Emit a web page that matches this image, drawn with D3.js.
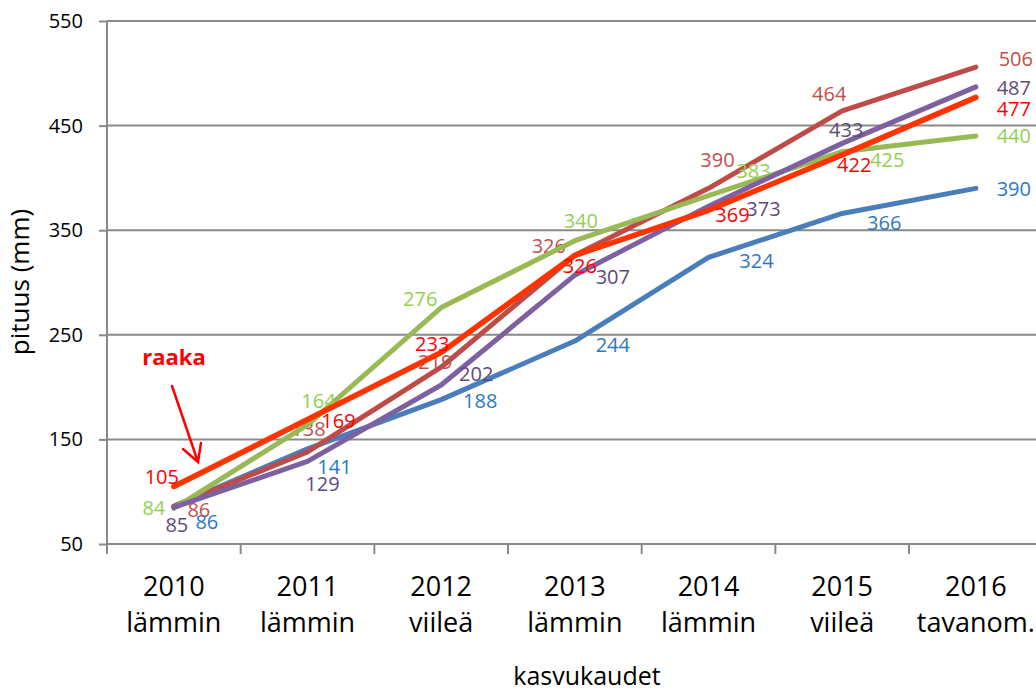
<!DOCTYPE html>
<html>
<head>
<meta charset="utf-8">
<script src="https://cdn.jsdelivr.net/npm/d3@7"></script>
<style>
  html, body { margin: 0; padding: 0; background: #ffffff; }
  svg { display: block; font-family: "Open Sans", "Noto Sans", sans-serif; }
</style>
</head>
<body>
<svg id="chart" width="1036" height="693"></svg>
<script>
// ---- data ----
const categories = ["2010", "2011", "2012", "2013", "2014", "2015", "2016"];
const seasons = ["lämmin", "lämmin", "viileä", "lämmin", "lämmin", "viileä", "tavanom."];
const yTicks = [50, 150, 250, 350, 450, 550];

const blueValues   = [86, 141, 188, 244, 324, 366, 390];
const redValues    = [86, 138, 219, 326, 390, 464, 506];
const greenValues  = [84, 164, 276, 340, 383, 425, 440];
const purpleValues = [85, 129, 202, 307, 373, 433, 487];
const raakaValues  = [105, 169, 233, 326, 369, 422, 477];

// label offsets (dx, dy of label centre from point)
const blueLabelOffsets   = [[33,16],[27,18],[39,1],[38,4],[48,4],[42,10],[38,1]];
const redLabelOffsets    = [[25,4],[1,-23],[-6,-5],[-26,-9],[9,-28],[-13,-17],[40,-8]];
const greenLabelOffsets  = [[-20,0],[11,-24],[-21,-9],[6,-20],[45,-25],[45,8],[38,0]];
const purpleLabelOffsets = [[3,18],[15,23],[35,-11],[38,2],[55,3],[4,-13],[38,1]];
const raakaLabelOffsets  = [[-12,-9],[31,1],[-9,-9],[5,11],[24,5],[12,10],[38,12]];

const series = [
  { values: blueValues,   line: "#4a7ebb", label: "#2a78c4", offsets: blueLabelOffsets,   width: 5 },
  { values: redValues,    line: "#be4b48", label: "#c0504d", offsets: redLabelOffsets,    width: 5 },
  { values: greenValues,  line: "#98b954", label: "#92d050", offsets: greenLabelOffsets,  width: 5 },
  { values: purpleValues, line: "#7d60a0", label: "#604a7b", offsets: purpleLabelOffsets, width: 5 },
  { values: raakaValues,  line: "#ff3300", label: "#ff0000", offsets: raakaLabelOffsets,  width: 5.5 }
];

// ---- layout ----
const svg = d3.select("#chart");
const plotLeft = 107, plotTop = 21, plotBottom = 544;
const step = 133.67;
const plotRight = plotLeft + step * categories.length;

const x = d3.scalePoint().domain(categories).range([plotLeft, plotRight]).padding(0.5);
const y = d3.scaleLinear().domain([50, 550]).range([plotBottom, plotTop]);

const gridColor = "#898989";

// gridlines
svg.append("g").selectAll("line").data(yTicks).join("line")
  .attr("x1", plotLeft).attr("x2", 1036)
  .attr("y1", d => y(d)).attr("y2", d => y(d))
  .attr("stroke", gridColor).attr("stroke-width", 2);

// y axis
const yAxis = svg.append("g")
  .attr("transform", `translate(${plotLeft},0)`)
  .call(d3.axisLeft(y).tickValues(yTicks).tickSize(8).tickPadding(16).tickFormat(d3.format("d")));
yAxis.select(".domain").attr("stroke", gridColor).attr("stroke-width", 2)
  .attr("d", `M0,${plotTop}V${plotBottom + 10}`);
yAxis.selectAll(".tick line").attr("stroke", gridColor).attr("stroke-width", 2);
yAxis.selectAll(".tick text").attr("font-size", 20).attr("fill", "#000")
  .attr("font-family", "'Open Sans', sans-serif");

// x axis ticks at category boundaries
const boundaries = categories.map(c => x(c) - step / 2).concat([x(categories[categories.length - 1]) + step / 2]);
svg.append("g").selectAll("line").data(boundaries).join("line")
  .attr("x1", d => d).attr("x2", d => d)
  .attr("y1", plotBottom).attr("y2", plotBottom + 10)
  .attr("stroke", gridColor).attr("stroke-width", 2);

// x labels
const xl = svg.append("g").selectAll("text").data(categories).join("text")
  .attr("text-anchor", "middle")
  .attr("font-size", 27)
  .attr("fill", "#000");
xl.append("tspan").attr("x", d => x(d)).attr("y", 596).text(d => d);
xl.append("tspan").attr("x", d => x(d)).attr("y", 632).text((d, i) => seasons[i]);

// axis titles
svg.append("text")
  .attr("x", 587).attr("y", 685)
  .attr("text-anchor", "middle").attr("font-size", 25).attr("fill", "#000")
  .text("kasvukaudet");
svg.append("text")
  .attr("transform", "translate(29,282) rotate(-90)")
  .attr("text-anchor", "middle").attr("font-size", 26).attr("fill", "#000")
  .text("pituus (mm)");

// series
const line = d3.line().x((d, i) => x(categories[i])).y(d => y(d));
series.forEach(s => {
  svg.append("path")
    .attr("d", line(s.values))
    .attr("fill", "none")
    .attr("stroke", s.line)
    .attr("stroke-width", s.width)
    .attr("stroke-linejoin", "round")
    .attr("stroke-linecap", "round");
  svg.append("g").selectAll("text").data(s.values).join("text")
    .attr("x", (d, i) => x(categories[i]) + s.offsets[i][0])
    .attr("y", (d, i) => y(d) + s.offsets[i][1] + 7)
    .attr("text-anchor", "middle")
    .attr("font-size", 20)
    .attr("fill", s.label)
    .text(d => d);
});

// annotation "raaka" with arrow
svg.append("text")
  .attr("x", 174).attr("y", 365)
  .attr("text-anchor", "middle")
  .attr("font-size", 22).attr("font-weight", "bold")
  .attr("fill", "#ff0000")
  .text("raaka");
svg.append("path")
  .attr("d", "M172,386L198,462M183,449L198,462L201,443")
  .attr("fill", "none")
  .attr("stroke", "#ff0000")
  .attr("stroke-width", 2.5)
  .attr("stroke-linecap", "round")
  .attr("stroke-linejoin", "miter");
</script>
</body>
</html>
